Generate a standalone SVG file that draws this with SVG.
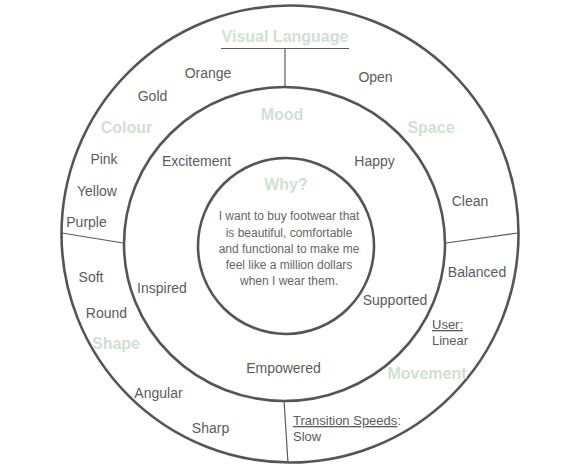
<svg xmlns="http://www.w3.org/2000/svg" width="575" height="476" viewBox="0 0 575 476">
<style>
.ring{fill:none;stroke:#555;stroke-width:2.6}
.div{stroke:#5a5a5a;stroke-width:1.2;fill:none}
.t{font-family:"Liberation Sans",Arial,sans-serif;font-size:14px;fill:#5b5b5b;text-anchor:middle}
.s{font-family:"Liberation Sans",Arial,sans-serif;font-size:13px;fill:#5b5b5b}
.c{font-family:"Liberation Sans",Arial,sans-serif;font-size:12px;fill:#666;text-anchor:middle}
.h{font-family:"Liberation Sans",Arial,sans-serif;font-size:16px;font-weight:bold;fill:#cfe1d3;text-anchor:middle}
.u{text-decoration:underline}
</style>
<rect width="575" height="476" fill="#fff"/>
<g id="outer-ring"><circle class="ring" cx="290" cy="234" r="228.5"/></g>
<g id="middle-ring"><ellipse class="ring" cx="284.5" cy="244" rx="160.5" ry="157"/></g>
<g id="inner-ring"><circle class="ring" cx="286" cy="246" r="88"/></g>
<g id="connectors">
<line class="div" x1="221" y1="48.5" x2="349" y2="48.5"/>
<line class="div" x1="285" y1="48.5" x2="285" y2="87"/>
<line class="div" x1="62" y1="233" x2="123" y2="243"/>
<line class="div" x1="446" y1="243" x2="518" y2="233"/>
<line class="div" x1="284" y1="400" x2="288" y2="463"/>
</g>
<g id="visual-language"><text class="h" x="285" y="42">Visual Language</text></g>
<g id="colour">
<text class="h" x="126.5" y="133">Colour</text>
<text class="t" x="208" y="78">Orange</text>
<text class="t" x="152.5" y="101">Gold</text>
<text class="t" x="104" y="164">Pink</text>
<text class="t" x="97" y="196">Yellow</text>
<text class="t" x="86.5" y="227">Purple</text>
</g>
<g id="space">
<text class="h" x="431" y="133">Space</text>
<text class="t" x="375.5" y="82">Open</text>
<text class="t" x="470" y="206">Clean</text>
<text class="t" x="477" y="277">Balanced</text>
</g>
<g id="mood">
<text class="h" x="282" y="120">Mood</text>
<text class="t" x="196.5" y="166">Excitement</text>
<text class="t" x="374.5" y="166">Happy</text>
<text class="t" x="162" y="293">Inspired</text>
<text class="t" x="395" y="305">Supported</text>
<text class="t" x="283.5" y="373">Empowered</text>
</g>
<g id="why">
<text class="h" x="286" y="190">Why?</text>
<text class="c" x="289" y="220">I want to buy footwear that</text>
<text class="c" x="289" y="236.5">is beautiful, comfortable</text>
<text class="c" x="289" y="252.5">and functional to make me</text>
<text class="c" x="289" y="268.5">feel like a million dollars</text>
<text class="c" x="289" y="284.5">when I wear them.</text>
</g>
<g id="shape">
<text class="h" x="116" y="349">Shape</text>
<text class="t" x="91" y="282">Soft</text>
<text class="t" x="106.5" y="318">Round</text>
<text class="t" x="158.5" y="398">Angular</text>
<text class="t" x="210.5" y="433">Sharp</text>
</g>
<g id="movement">
<text class="h" x="427" y="379">Movement</text>
<text class="s" x="432" y="329"><tspan class="u">User:</tspan></text>
<text class="s" x="432" y="345">Linear</text>
<text class="s" x="293" y="425"><tspan class="u">Transition Speeds</tspan>:</text>
<text class="s" x="293" y="441">Slow</text>
</g>
</svg>
